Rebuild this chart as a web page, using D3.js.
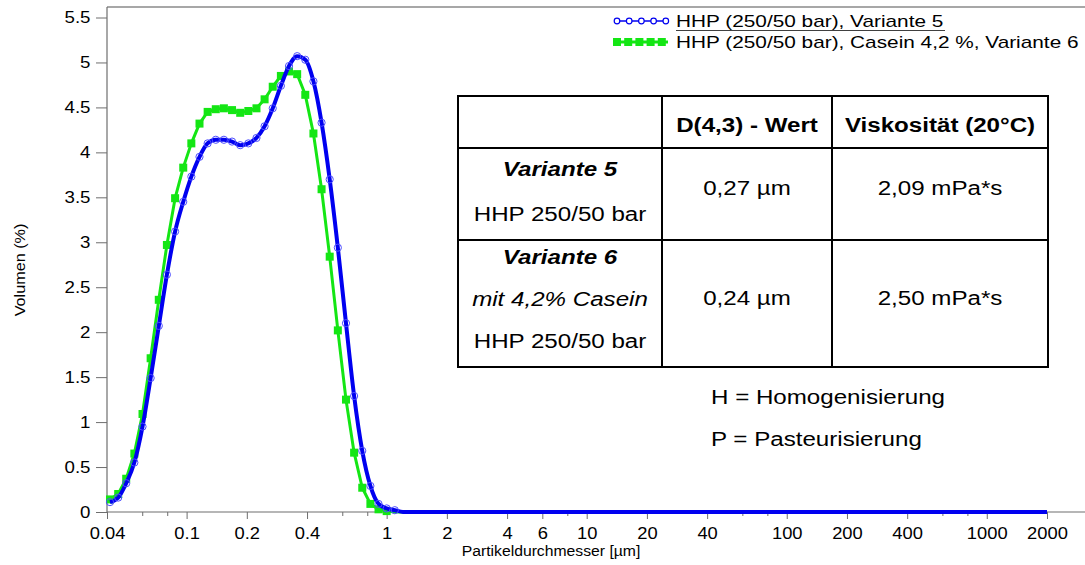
<!DOCTYPE html>
<html lang="de">
<head>
<meta charset="UTF-8">
<title>Partikelgrößenverteilung</title>
<script src="https://cdn.jsdelivr.net/npm/d3@7/dist/d3.min.js"></script>
<style>
  html, body { margin: 0; padding: 0; background: #fff; }
  svg { display: block; font-family: "Liberation Sans", Arial, sans-serif; }
</style>
</head>
<body>
<svg id="chart" width="1085" height="565"></svg>
<script>
// size classes (µm) and volume fractions (%)
var sizes = [0.0414, 0.0455, 0.0499, 0.0548, 0.0602, 0.0661, 0.0726, 0.0797, 0.0876, 0.0962,
             0.1056, 0.116, 0.1274, 0.1399, 0.1536, 0.1687, 0.1853, 0.2035, 0.2235, 0.2454,
             0.2695, 0.296, 0.325, 0.357, 0.392, 0.4305, 0.4728, 0.5192, 0.5702, 0.6262,
             0.6877, 0.7552, 0.8294, 0.9108, 1.0003, 1.0985, 1.2064, 2000];

var variante5 = [0.11, 0.16, 0.32, 0.55, 0.95, 1.49, 2.07, 2.64, 3.12, 3.45,
                 3.73, 3.95, 4.10, 4.14, 4.14, 4.12, 4.08, 4.10, 4.16, 4.29,
                 4.49, 4.74, 4.96, 5.07, 5.03, 4.79, 4.33, 3.70, 2.94, 2.10,
                 1.29, 0.68, 0.29, 0.09, 0.04, 0.02, 0, 0];

var variante6 = [0.14, 0.20, 0.37, 0.65, 1.09, 1.71, 2.36, 2.97, 3.49, 3.83,
                 4.10, 4.32, 4.45, 4.48, 4.49, 4.47, 4.44, 4.46, 4.49, 4.59,
                 4.73, 4.85, 4.90, 4.87, 4.64, 4.21, 3.59, 2.84, 2.02, 1.25,
                 0.66, 0.27, 0.09, 0.03, 0.01, 0, 0, 0];

var seriesNames = ["HHP (250/50 bar), Variante 5", "HHP (250/50 bar), Casein 4,2 %, Variante 6"];

var xMajor = [0.04, 0.1, 0.2, 0.4, 1, 2, 4, 6, 10, 20, 40, 100, 200, 400, 1000, 2000];
var xMinor = [0.06, 0.08, 0.6, 0.8, 8, 60, 80, 600, 800];
var yTicks = [0, 0.5, 1, 1.5, 2, 2.5, 3, 3.5, 4, 4.5, 5, 5.5];

var tableHead = ["", "D(4,3) - Wert", "Viskosität (20°C)"];
var tableRows = [
    { name: ["Variante 5", "HHP 250/50 bar"], d43: "0,27 µm", visk: "2,09 mPa*s" },
    { name: ["Variante 6", "mit 4,2% Casein", "HHP 250/50 bar"], d43: "0,24 µm", visk: "2,50 mPa*s" }
];
var notes = ["H = Homogenisierung", "P = Pasteurisierung"];

// colours
var blue = "#0000f0";
var blueMarker = "#4d4dff";
var green = "#14e614";
var axisGrey = "#6e6e6e";

var svg = d3.select("#chart");

var x = d3.scaleLog().domain([0.04, 2000]).range([107, 1047]);
var y = d3.scaleLinear().domain([0, 5.5]).range([512, 17.5]);

// stretched text helper
function label(g, px, py, s, size, opts) {
    opts = opts || {};
    return g.append("text")
        .attr("transform", "translate(" + px + "," + py + ") scale(" + (opts.sx || 1) + ",1)")
        .attr("text-anchor", opts.anchor || "middle")
        .style("font-size", size + "px")
        .style("font-weight", opts.bold ? "bold" : "normal")
        .style("font-style", opts.italic ? "italic" : "normal")
        .attr("fill", "#000")
        .text(s);
}

// frame: top line and axis baseline
svg.append("line").attr("x1", 107).attr("x2", 1085).attr("y1", 7).attr("y2", 7)
    .attr("stroke", "#505050").attr("stroke-width", 1.2);

// y axis
var yAxis = svg.append("g").attr("transform", "translate(107,0)")
    .call(d3.axisLeft(y).tickValues(yTicks).tickSize(11).tickPadding(4)
        .tickFormat(function (d) { return d; }));
yAxis.select(".domain").remove();
yAxis.selectAll(".tick line").attr("stroke", axisGrey);
yAxis.selectAll(".tick text").attr("font-size", 17).attr("font-family", "Liberation Sans, Arial, sans-serif")
    .attr("fill", "#000").attr("transform", "scale(1.1,1)");
svg.append("line").attr("x1", 107).attr("x2", 107).attr("y1", 7).attr("y2", 512)
    .attr("stroke", axisGrey).attr("stroke-width", 1.2);

// x axis
var xAxis = svg.append("g").attr("transform", "translate(0,512)")
    .call(d3.axisBottom(x).tickValues(xMajor).tickSize(7).tickPadding(8)
        .tickFormat(function (d) { return d; }));
xAxis.select(".domain").remove();
xAxis.selectAll(".tick line").attr("stroke", axisGrey);
xAxis.selectAll(".tick text").attr("font-size", 17).attr("font-family", "Liberation Sans, Arial, sans-serif")
    .attr("fill", "#000").attr("transform", "scale(1.08,1)");

var xAxisMinor = svg.append("g").attr("transform", "translate(0,512)")
    .call(d3.axisBottom(x).tickValues(xMinor).tickSize(4).tickFormat(""));
xAxisMinor.select(".domain").remove();
xAxisMinor.selectAll(".tick line").attr("stroke", axisGrey);

svg.append("line").attr("x1", 107).attr("x2", 1085).attr("y1", 512).attr("y2", 512)
    .attr("stroke", axisGrey).attr("stroke-width", 1.2);

// axis titles
label(svg, 551, 556, "Partikeldurchmesser [µm]", 15, { sx: 1.05 });
svg.append("text")
    .attr("transform", "translate(25,270) rotate(-90) scale(1.08,1)")
    .attr("text-anchor", "middle").style("font-size", "15px")
    .text("Volumen (%)");

// curves
var pts6 = sizes.map(function (s, i) { return { s: s, v: variante6[i] }; });
var pts5 = sizes.map(function (s, i) { return { s: s, v: variante5[i] }; });

var lineLin = d3.line().x(function (d) { return x(d.s); }).y(function (d) { return y(d.v); });
var lineSmooth = d3.line().curve(d3.curveMonotoneX)
    .x(function (d) { return x(d.s); }).y(function (d) { return y(d.v); });

svg.append("path").datum(pts6).attr("d", lineLin)
    .attr("fill", "none").attr("stroke", green).attr("stroke-width", 3).attr("stroke-linejoin", "round");
svg.selectAll("rect.m6").data(pts6.filter(function (d) { return d.v > 0; })).enter()
    .append("rect").attr("class", "m6")
    .attr("x", function (d) { return x(d.s) - 4; })
    .attr("y", function (d) { return y(d.v) - 4; })
    .attr("width", 8).attr("height", 8)
    .attr("fill", green);

svg.append("path").datum(pts5).attr("d", lineSmooth)
    .attr("fill", "none").attr("stroke", blue).attr("stroke-width", 4).attr("stroke-linejoin", "round");
svg.selectAll("circle.m5").data(pts5.filter(function (d) { return d.v > 0; })).enter()
    .append("circle").attr("class", "m5")
    .attr("cx", function (d) { return x(d.s); })
    .attr("cy", function (d) { return y(d.v); })
    .attr("r", 3.6)
    .attr("fill", "none").attr("stroke", blueMarker).attr("stroke-width", 1);

// legend
var leg = svg.append("g");
leg.append("line").attr("x1", 615).attr("x2", 668).attr("y1", 21).attr("y2", 21)
    .attr("stroke", blue).attr("stroke-width", 1.5);
leg.selectAll("circle").data(d3.range(5)).enter().append("circle")
    .attr("cx", function (d) { return 617 + d * 12.2; }).attr("cy", 21).attr("r", 2.8)
    .attr("fill", "#fff").attr("stroke", blue).attr("stroke-width", 1.2);
leg.append("line").attr("x1", 615).attr("x2", 668).attr("y1", 42).attr("y2", 42)
    .attr("stroke", green).attr("stroke-width", 3);
leg.selectAll("rect").data(d3.range(5)).enter().append("rect")
    .attr("x", function (d) { return 613 + d * 11.2; }).attr("y", 38).attr("width", 8).attr("height", 8)
    .attr("fill", green);
label(leg, 676, 27, seriesNames[0], 16, { anchor: "start", sx: 1.3 });
label(leg, 676, 48, seriesNames[1], 16, { anchor: "start", sx: 1.3 });
leg.append("line").attr("x1", 676).attr("x2", 945).attr("y1", 30.5).attr("y2", 30.5)
    .attr("stroke", "#404040").attr("stroke-width", 1);

// table
var tb = svg.append("g");
var colX = [458, 662, 832, 1048];
var rowY = [96, 148, 240, 367];
tb.append("rect").attr("x", colX[0]).attr("y", rowY[0])
    .attr("width", colX[3] - colX[0]).attr("height", rowY[3] - rowY[0])
    .attr("fill", "#fff").attr("stroke", "#000").attr("stroke-width", 2);
[colX[1], colX[2]].forEach(function (cx) {
    tb.append("line").attr("x1", cx).attr("x2", cx).attr("y1", rowY[0]).attr("y2", rowY[3])
        .attr("stroke", "#000").attr("stroke-width", 2);
});
[rowY[1], rowY[2]].forEach(function (ry) {
    tb.append("line").attr("x1", colX[0]).attr("x2", colX[3]).attr("y1", ry).attr("y2", ry)
        .attr("stroke", "#000").attr("stroke-width", 2);
});
var colMid = [560, 747, 940];
label(tb, colMid[1], 132, tableHead[1], 21, { bold: true, sx: 1.15 });
label(tb, colMid[2], 132, tableHead[2], 21, { bold: true, sx: 1.15 });

label(tb, colMid[0], 176, tableRows[0].name[0], 21, { bold: true, italic: true, sx: 1.15 });
label(tb, colMid[0], 221, tableRows[0].name[1], 21, { sx: 1.15 });
label(tb, colMid[1], 195, tableRows[0].d43, 21, { sx: 1.15 });
label(tb, colMid[2], 195, tableRows[0].visk, 21, { sx: 1.15 });

label(tb, colMid[0], 264, tableRows[1].name[0], 21, { bold: true, italic: true, sx: 1.15 });
label(tb, colMid[0], 306, tableRows[1].name[1], 21, { italic: true, sx: 1.15 });
label(tb, colMid[0], 348, tableRows[1].name[2], 21, { sx: 1.15 });
label(tb, colMid[1], 305, tableRows[1].d43, 21, { sx: 1.15 });
label(tb, colMid[2], 305, tableRows[1].visk, 21, { sx: 1.15 });

// notes
label(svg, 711, 404, notes[0], 21, { anchor: "start", sx: 1.15 });
label(svg, 711, 446, notes[1], 21, { anchor: "start", sx: 1.15 });
</script>
</body>
</html>
